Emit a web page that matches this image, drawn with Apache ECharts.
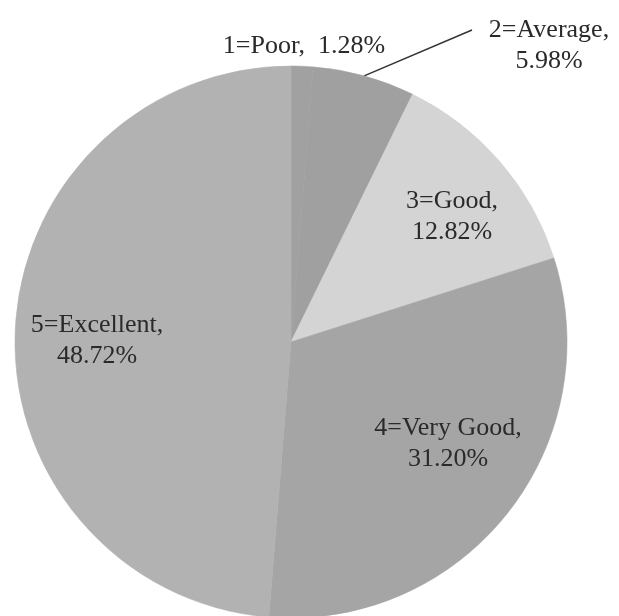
<!DOCTYPE html>
<html>
<head>
<meta charset="utf-8">
<script src="https://cdn.jsdelivr.net/npm/echarts@6/dist/echarts.min.js"></script>
<style>
  html, body { margin: 0; padding: 0; background: #fff; }
  #chart { width: 619px; height: 616px; }
</style>
</head>
<body>
<div id="chart"></div>
<script>
// ratings and their share of answers (%)
const categories = ['1=Poor', '2=Average', '3=Good', '4=Very Good', '5=Excellent']
const shares = [1.28, 5.98, 12.82, 31.20, 48.72]
const sliceColors = ['#a1a1a1', '#a0a0a0', '#d4d4d4', '#a5a5a5', '#b2b2b2']

// where each label text sits (centre of the text block)
const labelPos = [[304, 46], [549, 46], [452, 217], [448, 444], [97, 341]]

const chart = echarts.init(document.getElementById('chart'))

const data = categories.map((name, i) => ({
  name: name,
  value: shares[i],
  // border in the slice's own colour hides the hairline gaps between slices
  itemStyle: { color: sliceColors[i], borderColor: sliceColors[i], borderWidth: 0.6 },
  label: {
    position: i < 2 ? 'outside' : 'inside'
  },
  labelLine: { show: i === 1 }
}))

chart.setOption({
  animation: false,
  series: [{
    type: 'pie',
    center: [291, 342],
    radius: 276,
    startAngle: 90,
    clockwise: true,
    avoidLabelOverlap: false,
    label: {
      show: true,
      fontFamily: 'Liberation Serif',
      fontSize: 26,
      lineHeight: 31,
      color: '#2a2a2a',
      align: 'center',
      formatter: p => p.dataIndex === 0
        ? p.name + ',  ' + p.value.toFixed(2) + '%'
        : p.name + ',\n' + p.value.toFixed(2) + '%'
    },
    labelLine: {
      lineStyle: { color: '#333', width: 1.5 },
      length: 10,
      length2: 10
    },
    labelLayout: function (params) {
      const p = labelPos[params.dataIndex]
      const res = { x: p[0], y: p[1], align: 'center', verticalAlign: 'middle' }
      if (params.dataIndex === 1 && params.labelLinePoints) {
        const start = params.labelLinePoints[0]
        res.labelLinePoints = [start, [472, 30], [472, 30]]
      }
      return res
    },
    emphasis: { disabled: true },
    data: data
  }]
})
</script>
</body>
</html>
